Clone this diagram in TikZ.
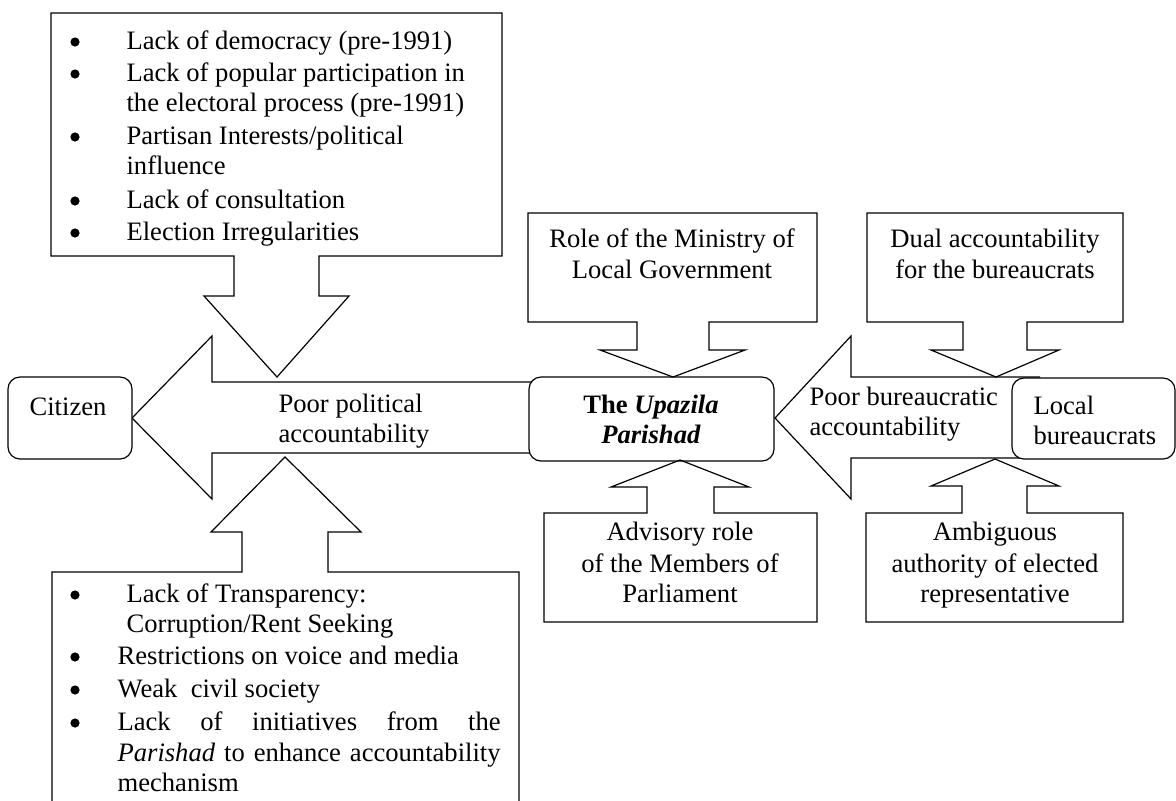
\documentclass[tikz,border=0pt]{standalone}
\usepackage{fontspec}
\setmainfont{Liberation Serif}
\begin{document}
\begin{tikzpicture}[x=0.5pt,y=-0.5pt,line width=0.6pt,
	txt/.style={anchor=base,inner sep=0pt,font=\fontsize{13.3}{15.8}\selectfont},
	ltxt/.style={txt,anchor=base west},
	dot/.style={circle,fill,inner sep=0pt,minimum size=4.6pt},
	rbox/.style={rounded corners=6pt,fill=white}]
		
		%%Page
		\clip (0,0) rectangle (1176,800);
		
		%%Big arrows
		\draw (540,382)--(212,382)--(212,336)--(132,418)--(212,499)--(212,453)--(540,453);
		\draw (1040,377)--(851,377)--(851,336)--(775,418)--(851,499)--(851,458)--(1040,458);
		
		%%Rounded boxes
		\draw[rbox] (8,377) rectangle (132,459);
		\draw[rbox] (529,377) rectangle (774,461);
		\draw[rbox] (1012,378) rectangle (1175,459);
		
		%%Callouts
		\draw (51,256)--(51,13)--(502,13)--(502,256)--(319,256)--(319,296)--(349,296)--(277,377)--(204,296)--(234,296)--(234,256)--cycle;
		\draw (52,810)--(52,572)--(242,572)--(242,532)--(211,532)--(285,457)--(361,532)--(328,532)--(328,572)--(519,572)--(519,810);
		\draw (528,322)--(528,213)--(817,213)--(817,322)--(709,322)--(709,350)--(745,350)--(673,377)--(600,350)--(637,350)--(637,322)--cycle;
		\draw (867,322)--(867,213)--(1123,213)--(1123,322)--(1027,322)--(1027,350)--(1059,350)--(996,377)--(931,350)--(963,350)--(963,322)--cycle;
		\draw (544,513)--(544,622)--(817,622)--(817,513)--(714,513)--(714,487)--(749,487)--(680,460)--(611,487)--(647,487)--(647,513)--cycle;
		\draw (866,513)--(866,622)--(1123,622)--(1123,513)--(1027,513)--(1027,486)--(1059,486)--(995,459)--(931,486)--(962,486)--(962,513)--cycle;
		
		%%Labels
		\node[txt] (citizen) at (68,415) {Citizen};
		\node[ltxt] (pol1) at (278,412) {Poor political};
		\node[ltxt] (pol2) at (278,442) {accountability};
		\node[txt] (upa1) at (651,413) {\textbf{The \textit{Upazila}}};
		\node[txt] (upa2) at (651,443) {\textbf{\textit{Parishad}}};
		\node[ltxt] (bur1) at (809,405) {Poor bureaucratic};
		\node[ltxt] (bur2) at (809,435) {accountability};
		\node[ltxt] (loc1) at (1033,414) {Local};
		\node[ltxt] (loc2) at (1033,444) {bureaucrats};
		
		\node[txt] (role1) at (672,247) {Role of the Ministry of};
		\node[txt] (role2) at (672,278) {Local Government};
		\node[txt] (dual1) at (995,247) {Dual accountability};
		\node[txt] (dual2) at (995,278) {for the bureaucrats};
		\node[txt] (adv1) at (680,540) {Advisory role};
		\node[txt] (adv2) at (680,572) {of the Members of};
		\node[txt] (adv3) at (680,602) {Parliament};
		\node[txt] (amb1) at (995,540) {Ambiguous};
		\node[txt] (amb2) at (995,572) {authority of elected};
		\node[txt] (amb3) at (995,602) {representative};
		
		%%Top list
		\node[dot] (tb1) at (75,42) {};
		\node[dot] (tb2) at (75,74) {};
		\node[dot] (tb3) at (75,137) {};
		\node[dot] (tb4) at (75,201) {};
		\node[dot] (tb5) at (75,233) {};
		\node[ltxt] (top1) at (126,49) {Lack of democracy (pre-1991)};
		\node[ltxt] (top2) at (126,81) {Lack of popular participation in};
		\node[ltxt] (top3) at (126,111) {the electoral process (pre-1991)};
		\node[ltxt] (top4) at (126,144) {Partisan Interests/political};
		\node[ltxt] (top5) at (126,174) {influence};
		\node[ltxt] (top6) at (126,208) {Lack of consultation};
		\node[ltxt] (top7) at (126,240) {Election Irregularities};
		
		%%Bottom list
		\node[dot] (bb1) at (75,595) {};
		\node[dot] (bb2) at (75,657) {};
		\node[dot] (bb3) at (75,690) {};
		\node[dot] (bb4) at (75,723) {};
		\node[ltxt] (bot1) at (126,602) {Lack of Transparency:};
		\node[ltxt] (bot2) at (126,632) {Corruption/Rent Seeking};
		\node[ltxt] (bot3) at (117,664) {Restrictions on voice and media};
		\node[ltxt] (bot4) at (117,697) {Weak~~civil society};
		\node[ltxt] (bot5) at (117,730) {\makebox[191.5pt][s]{Lack of initiatives from the}};
		\node[ltxt] (bot6) at (117,761) {\makebox[191.5pt][s]{\textit{Parishad} to enhance accountability}};
		\node[ltxt] (bot7) at (117,791) {mechanism};
		
\end{tikzpicture}
\end{document}
